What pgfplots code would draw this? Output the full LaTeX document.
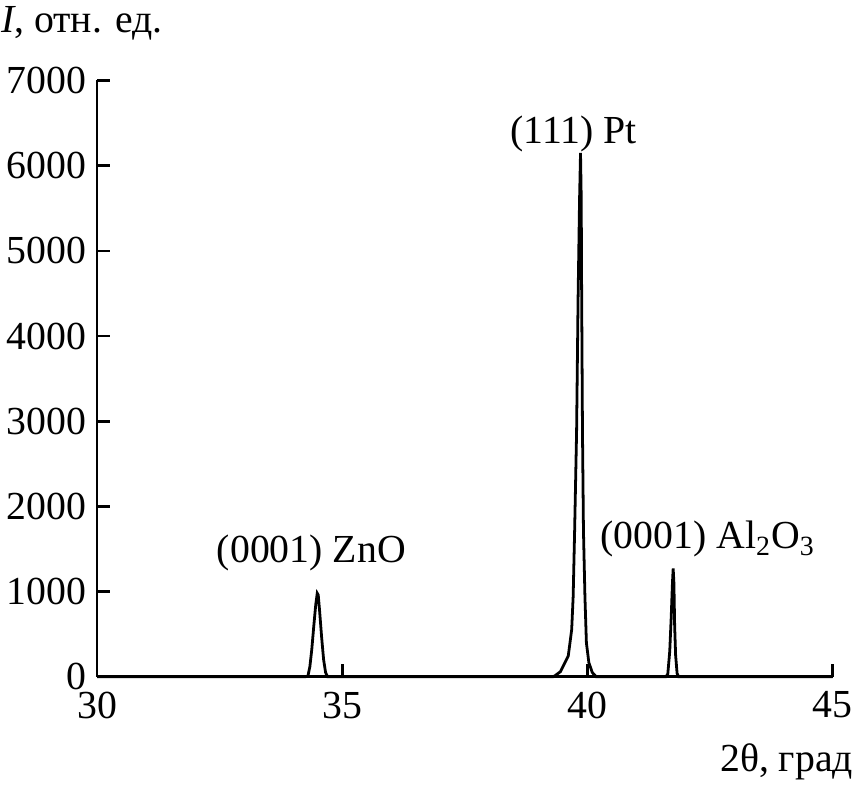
\documentclass[border=0pt]{standalone}
\usepackage{fontspec}
\setmainfont{Liberation Serif}
\usepackage{pgfplots}
\pgfplotsset{compat=1.18}
\begin{document}
\begin{tikzpicture}
\begin{axis}[
  scale only axis,
  width=370pt, height=300pt,
  xmin=30, xmax=45, ymin=0, ymax=7000,
  axis x line=bottom, axis y line=left,
  axis line style={-, line width=1.3pt},
  xtick={30,35,40,45},
  ytick={0,1000,2000,3000,4000,5000,6000,7000},
  tick align=inside,
  major tick length=6.5pt,
  every tick/.style={black, line width=1.3pt},
  /pgf/number format/1000 sep={},
  /pgf/number format/assume math mode=true,
  tick label style={font=\fontsize{20}{24}\selectfont},
  yticklabel style={xshift=-2pt},
  xticklabel style={yshift=-4pt},
  clip=false,
]
\addplot[black, line width=1.4pt] coordinates {
(30,0) (34.25,0) (34.30,10) (34.34,120) (34.38,330) (34.42,600) (34.46,850) (34.49,980) (34.51,960)
(34.54,760) (34.58,460) (34.62,200) (34.66,50) (34.70,0)
(39.30,0) (39.34,12) (39.45,60) (39.51,128) (39.61,244) (39.68,554) (39.71,942) (39.74,1717) (39.78,2880)
(39.81,4430) (39.84,5593) (39.86,6150) (39.875,5600) (39.88,4818) (39.90,2880) (39.92,1717)
(39.95,942) (39.98,399) (40.03,166) (40.10,50) (40.18,0)
(41.60,0) (41.64,30) (41.68,300) (41.71,700) (41.735,1100) (41.75,1270) (41.765,1100)
(41.78,600) (41.80,250) (41.83,40) (41.86,0) (45,0)
};
\node[anchor=base, font=\fontsize{20}{24}\selectfont] at (axis cs:34.37,1337) {(0001) ZnO};
\node[anchor=base, font=\fontsize{20}{24}\selectfont] at (axis cs:39.72,6256) {(111) Pt};
\node[anchor=base west, inner sep=0pt, font=\fontsize{20}{24}\selectfont] at (axis cs:40.26,1500) {(0001) Al\textsubscript{2}O\textsubscript{3}};
\node[anchor=base west, inner sep=0pt, font=\fontsize{20}{24}\selectfont] at ([xshift=-48.5pt,yshift=24pt]rel axis cs:0,1) {\textit{I}, отн. ед.};
\node[anchor=base east, inner sep=0pt, font=\fontsize{20}{24}\selectfont] at ([xshift=10.5pt,yshift=-47.5pt]rel axis cs:1,0) {2θ, град};
\path[use as bounding box] ([xshift=-48.5pt,yshift=-54.5pt]rel axis cs:0,0) rectangle ([xshift=11pt,yshift=40.5pt]rel axis cs:1,1);
\end{axis}
\end{tikzpicture}
\end{document}
